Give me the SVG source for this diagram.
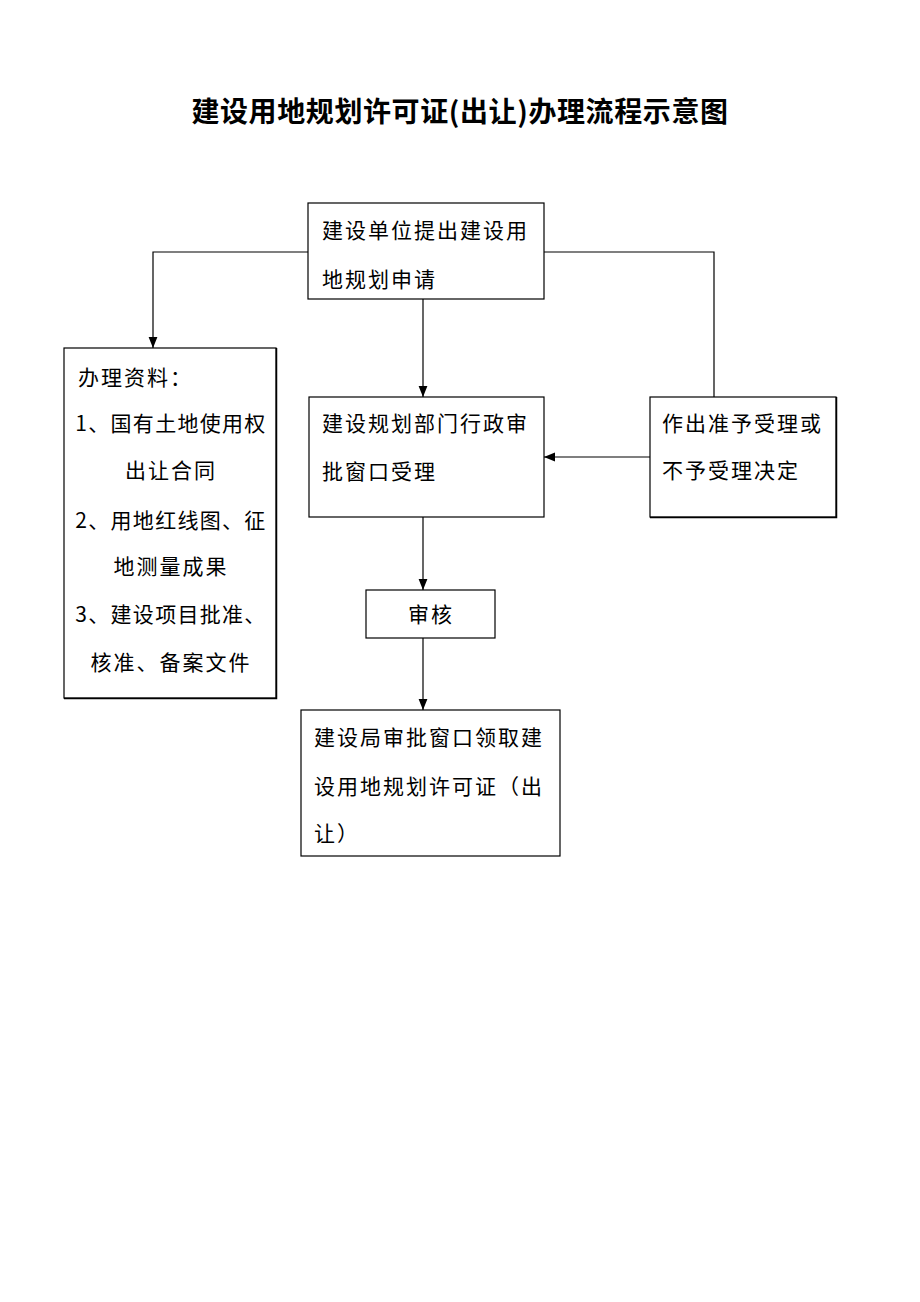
<svg xmlns="http://www.w3.org/2000/svg" width="920" height="1302" viewBox="0 0 920 1302">
<style>
text{font-family:"Noto Sans CJK SC","Noto Sans",sans-serif;fill:#000}
.t{font-size:21px;letter-spacing:2px}
.n{letter-spacing:1.3px}
.title{font-size:28px;font-weight:bold;letter-spacing:0.6px}
.box{fill:#fff;stroke:#000;stroke-width:1.2}
.sh{fill:none;stroke:#000;stroke-width:1.5}
.ln{fill:none;stroke:#000;stroke-width:1.2}
</style>
<defs>
<marker id="ah" viewBox="0 0 10 10" refX="10" refY="5" markerWidth="11" markerHeight="11" markerUnits="userSpaceOnUse" orient="auto">
<path d="M0,1 L10,5 L0,9 Z" fill="#000"/>
</marker>
</defs>
<rect width="920" height="1302" fill="#fff"/>
<text class="title" x="460" y="122" text-anchor="middle">建设用地规划许可证(出让)办理流程示意图</text>
<g id="connectors">
<path class="ln" d="M308,252 H153 V348" marker-end="url(#ah)"/>
<path class="ln" d="M544,252 H714 V397"/>
<path class="ln" d="M423,299 V397" marker-end="url(#ah)"/>
<path class="ln" d="M650,457 H544" marker-end="url(#ah)"/>
<path class="ln" d="M423,517 V590" marker-end="url(#ah)"/>
<path class="ln" d="M423,638 V710" marker-end="url(#ah)"/>
</g>
<g id="apply">
<rect class="box" x="308" y="203" width="236" height="96"/>
<text class="t" x="322" y="238">建设单位提出建设用</text>
<text class="t" x="322" y="287">地规划申请</text>
</g>
<g id="materials">
<rect class="box" x="64" y="348" width="212" height="350"/>
<path class="sh" d="M276.5,348 V698.5 H64"/>
<text class="t" x="78" y="385">办理资料：</text>
<text class="t n" x="171" y="431" text-anchor="middle">1、国有土地使用权</text>
<text class="t" x="171" y="478" text-anchor="middle">出让合同</text>
<text class="t n" x="171" y="528" text-anchor="middle">2、用地红线图、征</text>
<text class="t" x="171" y="574" text-anchor="middle">地测量成果</text>
<text class="t n" x="171" y="622" text-anchor="middle">3、建设项目批准、</text>
<text class="t" x="171" y="670" text-anchor="middle">核准、备案文件</text>
</g>
<g id="accept">
<rect class="box" x="309" y="397" width="235" height="120"/>
<text class="t" x="322" y="431">建设规划部门行政审</text>
<text class="t" x="322" y="479">批窗口受理</text>
</g>
<g id="decision">
<rect class="box" x="650" y="397" width="186" height="120"/>
<path class="sh" d="M836.5,397 V517.5 H650"/>
<text class="t" x="662" y="431">作出准予受理或</text>
<text class="t" x="662" y="478">不予受理决定</text>
</g>
<g id="review">
<rect class="box" x="366" y="590" width="129" height="48"/>
<text class="t" x="431" y="622" text-anchor="middle">审核</text>
</g>
<g id="collect">
<rect class="box" x="301" y="710" width="259" height="146"/>
<text class="t" x="314" y="745">建设局审批窗口领取建</text>
<text class="t" x="314" y="794">设用地规划许可证（出</text>
<text class="t" x="314" y="841">让）</text>
</g>
</svg>
